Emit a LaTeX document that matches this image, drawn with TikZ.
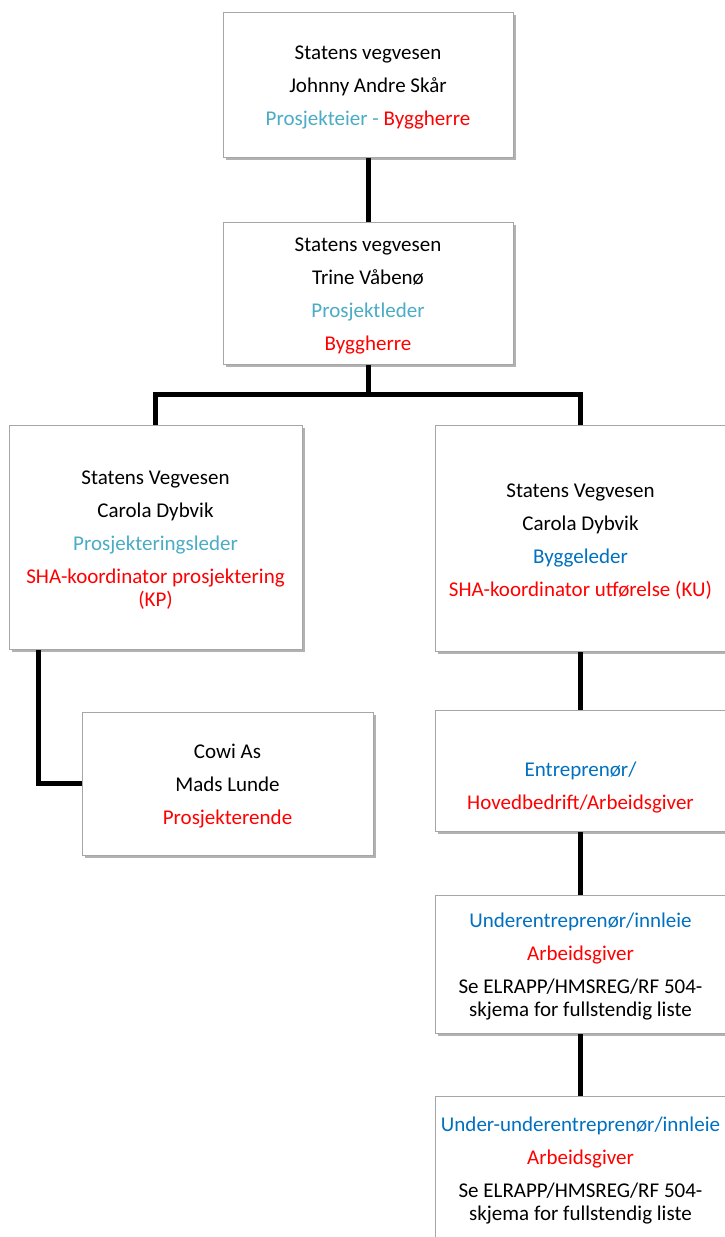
\documentclass[tikz,border=0pt]{standalone}
\usepackage{fontspec}
\setmainfont{Carlito}
\usetikzlibrary{shadows,backgrounds}
\definecolor{cyanC}{HTML}{4BACC6}
\definecolor{blueC}{HTML}{0070C0}
\definecolor{redC}{HTML}{FF0000}
\definecolor{borderC}{HTML}{A6A6A6}
\newcommand{\topfix}{\rule{0pt}{20pt}}
\begin{document}
\begin{tikzpicture}[x=1pt,y=-1pt,
  box/.style={draw=borderC, line width=0.9pt, fill=white, inner sep=0pt, align=center,
    font=\fontsize{21}{23}\selectfont,
    drop shadow={shadow xshift=2.5pt, shadow yshift=-2.5pt, opacity=0.3, fill=black}},
  link/.style={line width=5pt, draw=black, line join=miter}]
\useasboundingbox (0,0) rectangle (724,1237);
\begin{scope}[on background layer]
  \fill[white] (0,0) rectangle (724,1237);
\end{scope}

\node[box, minimum width=290pt, minimum height=145pt] (b1) at (368,84.5)
  {\topfix Statens vegvesen\\[10pt]Johnny Andre Skår\\[10pt]\textcolor{cyanC}{Prosjekteier -} \textcolor{redC}{Byggherre}};
\node[box, minimum width=290pt, minimum height=142pt] (b2) at (368,293)
  {\topfix Statens vegvesen\\[10pt]Trine Våbenø\\[10pt]\textcolor{cyanC}{Prosjektleder}\\[10pt]\textcolor{redC}{Byggherre}};
\node[box, minimum width=293pt, minimum height=224pt] (b3) at (155.5,537)
  {\topfix Statens Vegvesen\\[10pt]Carola Dybvik\\[10pt]\textcolor{cyanC}{Prosjekteringsleder}\\[10pt]\textcolor{redC}{SHA-koordinator prosjektering}\\\textcolor{redC}{(KP)}};
\node[box, minimum width=291pt, minimum height=226pt] (b4) at (580.5,538)
  {\topfix Statens Vegvesen\\[10pt]Carola Dybvik\\[10pt]\textcolor{blueC}{Byggeleder}\\[10pt]\textcolor{redC}{SHA-koordinator utførelse (KU)}};
\node[box, minimum width=291pt, minimum height=143pt] (b5) at (227.5,783.5)
  {\topfix Cowi As\\[10pt]Mads Lunde\\[10pt]\textcolor{redC}{Prosjekterende}};
\node[box, minimum width=291pt, minimum height=121pt] (b6) at (580.5,770.5)
  {\strut\\[10pt]\textcolor{blueC}{Entreprenør/}\\[10pt]\textcolor{redC}{Hovedbedrift/Arbeidsgiver}};
\node[box, minimum width=291pt, minimum height=138pt] (b7) at (580.5,964)
  {\topfix\textcolor{blueC}{Underentreprenør/innleie}\\[10pt]\textcolor{redC}{Arbeidsgiver}\\[10pt]Se ELRAPP/HMSREG/RF 504-\\skjema for fullstendig liste};
\node[box, minimum width=291pt, minimum height=144pt] (b8) at (580.5,1168)
  {\topfix\textcolor{blueC}{Under-underentreprenør/innleie}\\[10pt]\textcolor{redC}{Arbeidsgiver}\\[10pt]Se ELRAPP/HMSREG/RF 504-\\skjema for fullstendig liste};

\coordinate (j) at (368,394);
\begin{scope}[on background layer]
  \draw[link] (b1.south) -- (b2.north);
  \draw[link] (b2.south) -- (j);
  \draw[link] (b3.north) |- (j) -| (b4.north);
  \draw[link] ([xshift=30pt]b3.south west) |- (b5.west);
  \draw[link] (b4.south) -- (b6.north);
  \draw[link] (b6.south) -- (b7.north);
  \draw[link] (b7.south) -- (b8.north);
\end{scope}
\end{tikzpicture}
\end{document}
